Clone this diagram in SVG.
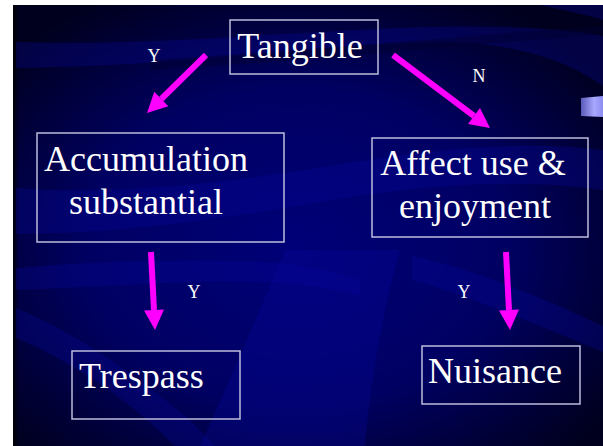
<svg xmlns="http://www.w3.org/2000/svg" width="603" height="446" viewBox="0 0 603 446">
  <defs>
    <radialGradient id="bg" cx="48%" cy="55%" r="65%">
      <stop offset="0" stop-color="#000078"/>
      <stop offset="0.55" stop-color="#000062"/>
      <stop offset="1" stop-color="#00001e"/>
    </radialGradient>
    <linearGradient id="edge" x1="0" y1="0" x2="1" y2="0">
      <stop offset="0" stop-color="#000000" stop-opacity="0.9"/>
      <stop offset="1" stop-color="#000000" stop-opacity="0"/>
    </linearGradient>
    <linearGradient id="tab" x1="0" y1="0" x2="1" y2="0">
      <stop offset="0" stop-color="#5a5ab8"/>
      <stop offset="0.6" stop-color="#a8a8ff"/>
      <stop offset="1" stop-color="#8c8cf0"/>
    </linearGradient>
    <marker id="head" markerUnits="userSpaceOnUse" markerWidth="22" markerHeight="22" refX="0" refY="10" orient="auto" overflow="visible">
      <path d="M0,0 L20,10 L0,20 Z" fill="#ff00ff"/>
    </marker>
    <style>
      .box { fill: none; stroke: #bcbcdc; stroke-width: 1.5; }
      .label { font-family: "Liberation Serif", "Times New Roman", serif; fill: #ffffff; font-size: 36px; }
      .tag { font-family: "Liberation Serif", "Times New Roman", serif; fill: #ffffff; font-size: 18px; }
      .arrow { stroke: #ff00ff; stroke-width: 6; fill: none; marker-end: url(#head); }
      .swoosh { fill: #0808a0; fill-opacity: 0.3; }
      .shade { fill: #000030; fill-opacity: 0.45; }
    </style>
  </defs>

  <!-- page margin and slide background -->
  <rect x="0" y="0" width="603" height="446" fill="#ffffff"/>
  <rect x="13" y="5" width="590" height="441" fill="url(#bg)"/>
  <rect x="13" y="5" width="6" height="441" fill="url(#edge)"/>

  <!-- background swooshes -->
  <g id="background">
    <path class="swoosh" d="M16,42 C140,46 260,34 400,28 C480,25 550,26 603,36 L603,86 C570,62 520,44 450,42 C330,42 200,66 16,68 Z"/>
    <path class="shade" d="M150,60 C280,52 420,40 603,26 L603,34 C420,50 280,62 150,70 Z"/>
    <path class="swoosh" d="M16,188 C120,196 230,182 330,166 C440,148 530,140 603,150 L603,190 C520,178 430,184 330,200 C230,218 120,234 16,234 Z"/>
    <path class="swoosh" d="M16,268 C90,262 170,258 260,262 C300,264 330,270 360,280 L360,296 C320,284 270,280 200,282 C130,284 70,288 16,290 Z"/>
    <path class="swoosh" d="M16,308 C70,330 130,370 190,420 L215,446 L175,446 C130,400 70,360 16,338 Z"/>
    <path class="swoosh" d="M285,250 L400,250 C380,320 370,390 365,446 L200,446 C230,380 260,310 285,250 Z"/>
    <path class="swoosh" d="M412,256 C470,268 540,296 603,326 L603,352 C540,326 470,296 412,280 Z"/>
    <path class="swoosh" d="M540,5 L603,5 L603,20 C585,14 560,10 540,5 Z"/>
    <path d="M581,98 L603,96 L603,117 L581,116 Z" fill="url(#tab)"/>
  </g>

  <!-- connectors -->
  <g id="connectors">
    <line class="arrow" x1="206" y1="55" x2="161.3" y2="99"/>
    <line class="arrow" x1="393" y1="55" x2="474" y2="116"/>
    <line class="arrow" x1="151" y1="252" x2="154" y2="310"/>
    <line class="arrow" x1="506" y1="252" x2="509" y2="310"/>
    <text class="tag" x="154" y="62" text-anchor="middle">Y</text>
    <text class="tag" x="479" y="82" text-anchor="middle">N</text>
    <text class="tag" x="194" y="298" text-anchor="middle">Y</text>
    <text class="tag" x="464" y="298" text-anchor="middle">Y</text>
  </g>

  <!-- nodes -->
  <g id="tangible">
    <rect class="box" x="230" y="20" width="148" height="54"/>
    <text class="label" x="300" y="58" text-anchor="middle">Tangible</text>
  </g>
  <g id="accumulation">
    <rect class="box" x="37" y="133" width="247" height="109"/>
    <text class="label" x="146" y="171" text-anchor="middle">Accumulation</text>
    <text class="label" x="146" y="214" text-anchor="middle">substantial</text>
  </g>
  <g id="affect">
    <rect class="box" x="372" y="138" width="216" height="99"/>
    <text class="label" x="473" y="175" text-anchor="middle">Affect use &amp;</text>
    <text class="label" x="475" y="218" text-anchor="middle">enjoyment</text>
  </g>
  <g id="trespass">
    <rect class="box" x="72" y="351" width="168" height="68"/>
    <text class="label" x="79" y="388">Trespass</text>
  </g>
  <g id="nuisance">
    <rect class="box" x="422" y="346" width="158" height="58"/>
    <text class="label" x="428" y="383">Nuisance</text>
  </g>
</svg>
